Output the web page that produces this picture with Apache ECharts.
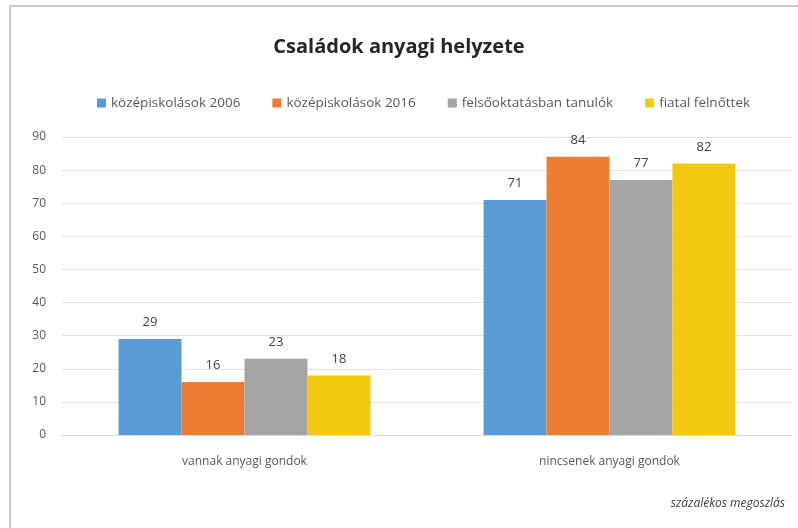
<!DOCTYPE html>
<html><head><meta charset="utf-8">
<script src="https://cdn.jsdelivr.net/npm/echarts@6/dist/echarts.min.js"></script>
<style>html,body{margin:0;padding:0;background:#fff}#c{width:798px;height:528px}</style>
</head><body><div id="c"></div>
<script>
const categories = ['vannak anyagi gondok', 'nincsenek anyagi gondok'];
const seriesNames = ['középiskolások 2006', 'középiskolások 2016', 'felsőoktatásban tanulók', 'fiatal felnőttek'];
const s2006 = [29, 71];
const s2016 = [16, 84];
const sFelso = [23, 77];
const sFiatal = [18, 82];
const colors = ['#5B9BD5', '#ED7D31', '#A5A5A5', '#F2C811'];
const FONT = '"Open Sans", "Noto Sans", sans-serif';
const values = [s2006, s2016, sFelso, sFiatal];
const chart = echarts.init(document.getElementById('c'));
chart.setOption({
  animation: false,
  backgroundColor: '#fff',
  textStyle: { fontFamily: FONT },
  title: {
    text: 'Családok anyagi helyzete',
    left: 'center', top: 32,
    textStyle: { fontSize: 20, fontWeight: 'bold', color: '#262626', fontFamily: FONT }
  },
  legend: {
    top: 91, left: 92, itemWidth: 9, itemHeight: 9, itemGap: 32,
    icon: 'rect',
    textStyle: { fontSize: 13.5, color: '#595959', fontFamily: FONT },
    data: seriesNames
  },
  grid: { left: 62, right: 6, top: 137, bottom: 93 },
  xAxis: {
    type: 'category', data: categories,
    axisLine: { show: true, lineStyle: { color: '#d9d9d9' } },
    axisTick: { show: false },
    axisLabel: { fontSize: 12, color: '#595959', margin: 21, fontFamily: FONT }
  },
  yAxis: {
    type: 'value', min: 0, max: 90, interval: 10,
    axisLine: { show: false }, axisTick: { show: false },
    splitLine: { lineStyle: { color: '#e3e3e3' } },
    axisLabel: { fontSize: 12, color: '#595959', margin: 16, fontFamily: FONT }
  },
  graphic: [
    { type: 'polyline', shape: { points: [[10, 528], [10, 6], [798, 6]] },
      style: { stroke: '#c8c8c8', lineWidth: 2, fill: null } },
    { type: 'text', right: 13, top: 498,
      style: { text: 'százalékos megoszlás', font: 'italic 12px ' + FONT, fill: '#404040' } }
  ],
  series: seriesNames.map((n, i) => ({
    name: n, type: 'bar', data: values[i],
    barGap: '0%', barCategoryGap: '31%',
    itemStyle: { color: colors[i] },
    label: { show: true, position: 'top', distance: 10, fontSize: 13, color: '#404040', fontFamily: FONT }
  }))
});
</script></body></html>
